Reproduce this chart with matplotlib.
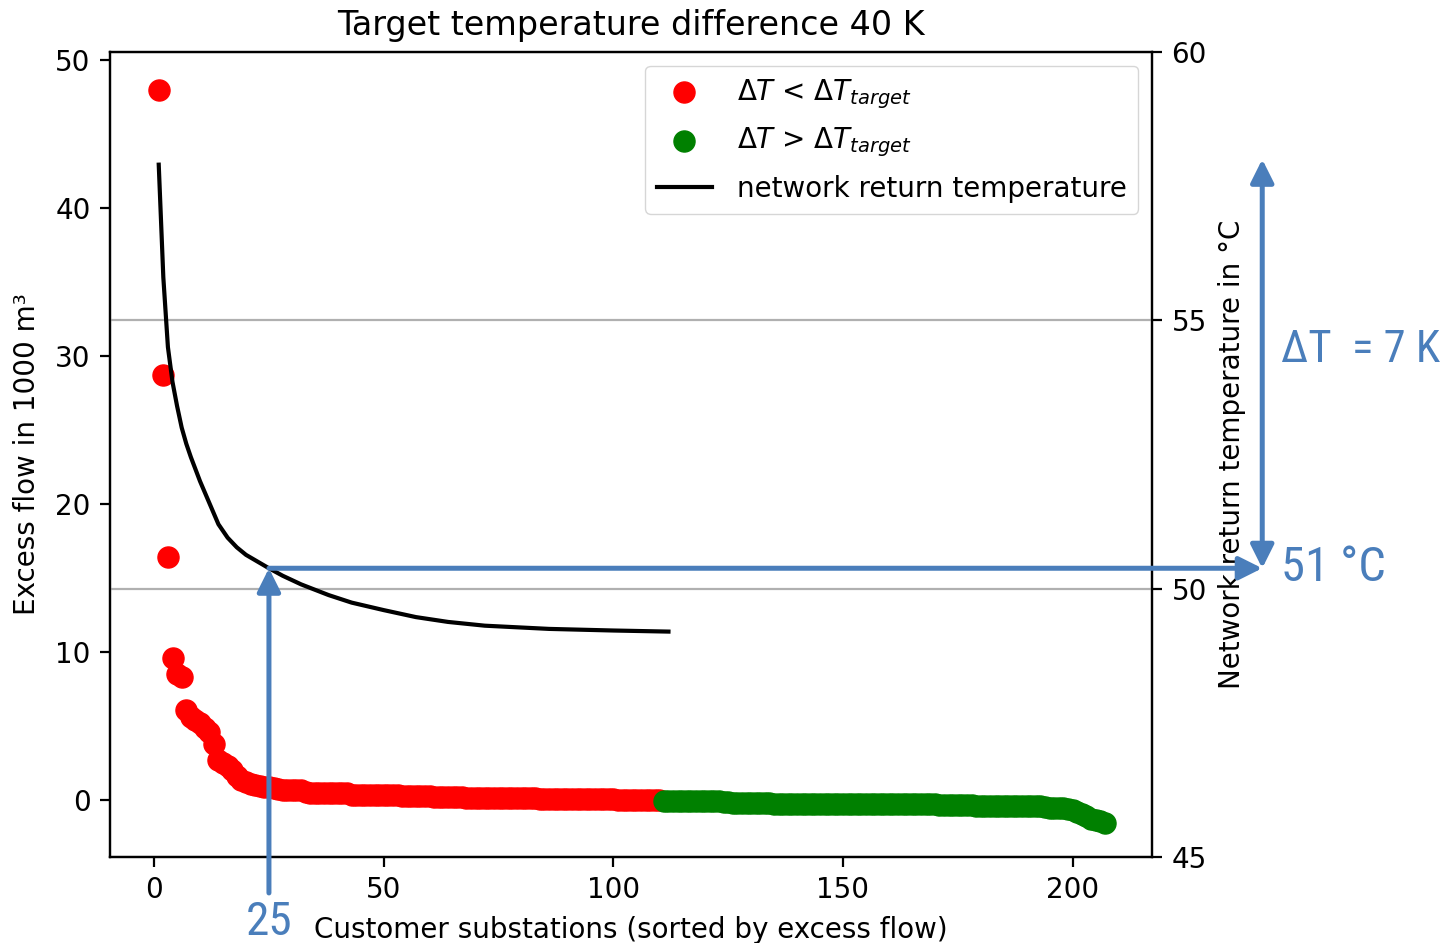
import numpy as np
import matplotlib
matplotlib.use("Agg")
import matplotlib.pyplot as plt

# excess flow per substation (1000 m3), substations sorted by excess flow
red_flow = [48.0, 28.7, 16.4, 9.6, 8.5, 8.3, 6.1, 5.6, 5.4, 5.2,
            4.9, 4.6, 3.8, 2.7, 2.5, 2.3, 2.0, 1.6, 1.35, 1.2,
            1.1, 1.0, 0.95, 0.9, 0.85, 0.8, 0.72, 0.7, 0.7, 0.68,
            0.66, 0.65, 0.52, 0.5, 0.5, 0.48, 0.48, 0.47, 0.46, 0.46,
            0.45, 0.45, 0.34, 0.34, 0.33, 0.33, 0.33, 0.32, 0.32, 0.32,
            0.31, 0.31, 0.31, 0.3, 0.3, 0.3, 0.3, 0.29, 0.29, 0.29,
            0.19, 0.19, 0.19, 0.18, 0.18, 0.18, 0.18, 0.17, 0.17, 0.17,
            0.17, 0.17, 0.16, 0.16, 0.16, 0.16, 0.16, 0.16, 0.15, 0.15,
            0.15, 0.15, 0.15, 0.06, 0.06, 0.06, 0.06, 0.05, 0.05, 0.05,
            0.05, 0.05, 0.05, 0.04, 0.04, 0.04, 0.04, 0.04, 0.04, 0.04,
            0.03, 0.03, 0.03, 0.03, 0.03, 0.03, 0.02, 0.02, 0.02, 0.02]
green_flow = [-0.05, -0.05, -0.06, -0.06, -0.06, -0.07, -0.07, -0.07, -0.08, -0.08,
              -0.08, -0.09, -0.09, -0.1, -0.1, -0.22, -0.22, -0.22, -0.22, -0.23,
              -0.23, -0.23, -0.23, -0.23, -0.24, -0.24, -0.24, -0.24, -0.24, -0.24,
              -0.25, -0.25, -0.25, -0.25, -0.25, -0.25, -0.25, -0.26, -0.26, -0.26,
              -0.26, -0.26, -0.26, -0.26, -0.26, -0.27, -0.27, -0.27, -0.27, -0.27,
              -0.27, -0.27, -0.27, -0.28, -0.28, -0.28, -0.28, -0.28, -0.28, -0.28,
              -0.36, -0.36, -0.36, -0.37, -0.37, -0.37, -0.37, -0.37, -0.38, -0.38,
              -0.38, -0.38, -0.38, -0.38, -0.39, -0.39, -0.39, -0.39, -0.39, -0.4,
              -0.4, -0.4, -0.4, -0.5, -0.52, -0.54, -0.55, -0.56, -0.58, -0.65,
              -0.78, -0.95, -1.1, -1.25, -1.35, -1.45, -1.52]

# network return temperature (degC) along the sorted substations
temp_x = [1, 2, 3, 4, 5, 6, 7, 8, 10, 12, 14, 16, 18, 20, 25, 28, 32,
          38, 43, 50, 57, 64, 72, 86, 100, 112]
temp_c = [57.9, 55.8, 54.5, 53.85, 53.4, 53.0, 52.7, 52.45, 52.0, 51.6,
          51.2, 50.95, 50.77, 50.63, 50.38, 50.24, 50.08, 49.88, 49.74,
          49.6, 49.47, 49.38, 49.31, 49.25, 49.22, 49.2]

x_red = np.arange(1, len(red_flow) + 1)
x_green = np.arange(len(red_flow) + 1, len(red_flow) + len(green_flow) + 1)

marked_station = 25
delta_t = 7             # K, rise of return temperature above that point
blue = "#4a7ebb"

plt.rcParams["font.size"] = 20
plt.rcParams["axes.linewidth"] = 1.6
for a in ("xtick", "ytick"):
    plt.rcParams[a + ".major.size"] = 7
    plt.rcParams[a + ".major.width"] = 1.6
    plt.rcParams[a + ".major.pad"] = 7

fig = plt.figure(figsize=(14.5, 9.43), dpi=100)
ax = fig.add_axes([0.0759, 0.0912, 0.7186, 0.8537])
ax2 = ax.twinx()

s_red = ax.scatter(x_red, red_flow, s=230, color="red", label=r"$\Delta T$ < $\Delta T_{target}$")
s_green = ax.scatter(x_green, green_flow, s=230, color="green", label=r"$\Delta T$ > $\Delta T_{target}$")
line, = ax2.plot(temp_x, temp_c, color="black", lw=3, label="network return temperature")

ax.set_xlim(-9.6, 217.3)
ax.set_ylim(-3.85, 50.55)
ax.set_yticks([0, 10, 20, 30, 40, 50])
ax.set_xticks([0, 50, 100, 150, 200])
ax2.set_ylim(45, 60)
ax2.set_yticks([45, 50, 55, 60])
ax2.grid(axis="y", color="#b0b0b0", lw=1.6)

ax.set_title("Target temperature difference 40 K", fontsize=24, pad=12)
ax.set_xlabel("Customer substations (sorted by excess flow)", labelpad=8)
ax.set_ylabel("Excess flow in 1000 m³", labelpad=10)
ax2.set_ylabel("Network return temperature in °C", labelpad=8)

ax2.legend(handles=[s_red, s_green, line], loc="upper right", fontsize=20,
           handletextpad=0.9, labelspacing=0.55)

# read-off arrows
t_mark = temp_c[temp_x.index(marked_station)]
x_right = 241.3
arrow = dict(arrowstyle="-|>,head_length=0.7,head_width=0.35", color=blue, lw=3.6,
             shrinkA=0, shrinkB=0)
ax2.annotate("", xy=(marked_station, t_mark), xytext=(marked_station, 44.33),
             arrowprops=arrow, annotation_clip=False)
ax2.annotate("", xy=(x_right, t_mark), xytext=(marked_station, t_mark),
             arrowprops=arrow, annotation_clip=False)
ax2.annotate("", xy=(x_right, 51 + delta_t), xytext=(x_right, t_mark),
             arrowprops=dict(arrow, arrowstyle="<|-|>,head_length=0.7,head_width=0.35"),
             annotation_clip=False)

afont = ["Roboto Condensed", "Liberation Sans Narrow", "Roboto"]
ax2.text(x_right + 4, t_mark, "51 °C", color=blue, fontsize=35, family=afont,
         ha="left", va="center", clip_on=False)
ax2.text(x_right + 4, 54.45, "ΔT  = %d K" % delta_t, color=blue, fontsize=32,
         family=afont, ha="left", va="center", clip_on=False)
ax2.text(marked_station, 44.2, str(marked_station), color=blue, fontsize=34,
         family=afont, ha="center", va="top", clip_on=False)

fig.savefig("out.png", dpi=100)
